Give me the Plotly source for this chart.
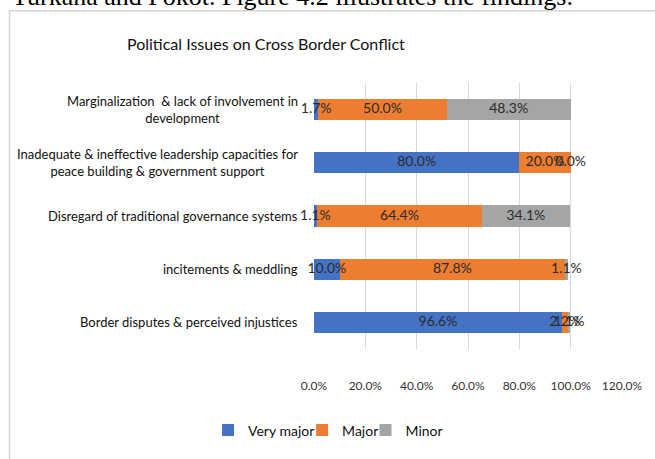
import plotly.graph_objects as go

categories = [
    "Marginalization  & lack of involvement in<br>development",
    "Inadequate & ineffective leadership capacities for<br>peace building & government support",
    "Disregard of traditional governance systems",
    "incitements & meddling",
    "Border disputes & perceived injustices",
]
very_major = [1.7, 80.0, 1.1, 10.0, 96.6]
major = [50.0, 20.0, 64.4, 87.8, 2.2]
minor = [48.3, 0.0, 34.1, 1.1, 1.1]
series_names = ["Very major", "Major", "Minor"]
colors = ["#4472C4", "#ED7D31", "#A5A5A5"]
x_ticks = [0, 20, 40, 60, 80, 100, 120]
x_tick_labels = ["0.0%", "20.0%", "40.0%", "60.0%", "80.0%", "100.0%", "120.0%"]

W, H = 655, 459
L, R, T, B = 314, 625, 83, 354
FONT = "Lato, Roboto, sans-serif"

def px_x(p):
    return (p - L) / (R - L)

def px_y(p):
    return (B - p) / (B - T)

legend_ids = ["legend", "legend2", "legend3"]
legend_text_px = [252, 347, 411]   # where each legend label starts

fig = go.Figure()
all_series = [very_major, major, minor]
for name, vals, col, lg in zip(series_names, all_series, colors, legend_ids):
    fig.add_trace(go.Bar(
        y=categories, x=vals, name=name, orientation="h",
        marker=dict(color=col, line=dict(width=0)),
        width=0.4, hoverinfo="x+name", legend=lg,
    ))

# data labels on top of all bars, centred on each segment
lab_x, lab_y, lab_t = [], [], []
for i, c in enumerate(categories):
    start = 0.0
    for vals in all_series:
        v = vals[i]
        lab_x.append(start + v / 2)
        lab_y.append(c)
        lab_t.append(f"{v:.1f}%")
        start += v
fig.add_trace(go.Scatter(
    x=lab_x, y=lab_y, text=lab_t, mode="text", showlegend=False,
    textposition="middle center", hoverinfo="skip", cliponaxis=False,
    textfont=dict(family=FONT, size=14, color="#2b2b2b"),
))

annotations = []
for c in categories:
    annotations.append(dict(
        x=px_x(300), xref="paper", y=c, yref="y",
        text=c, showarrow=False, xanchor="right", yanchor="middle",
        align="center", font=dict(family=FONT, size=13, color="#111111"),
    ))
annotations.append(dict(
    x=px_x(266), xref="paper", y=px_y(43), yref="paper",
    text="Political Issues on Cross Border Conflict", showarrow=False,
    xanchor="center", yanchor="middle",
    font=dict(family=FONT, size=16, color="#111111"),
))
annotations.append(dict(
    x=px_x(7), xref="paper", y=px_y(-5), yref="paper",
    text="Turkana and Pokot. Figure 4.2 illustrates the findings.", showarrow=False,
    xanchor="left", yanchor="middle",
    font=dict(family="Liberation Serif, Times New Roman, serif", size=26, color="#000000"),
))

legend_common = dict(
    orientation="h", xanchor="left", y=px_y(437), yanchor="middle",
    font=dict(family=FONT, size=14, color="#111111"),
    itemwidth=30, bgcolor="rgba(0,0,0,0)",
)
layout_legends = {}
for lg, tx in zip(legend_ids, legend_text_px):
    layout_legends[lg] = dict(x=px_x(tx - 45), **legend_common)

fig.update_layout(
    width=W, height=H,
    margin=dict(l=L, r=W - R, t=T, b=H - B, pad=0),
    paper_bgcolor="white", plot_bgcolor="white",
    barmode="stack",
    showlegend=True,
    annotations=annotations,
    shapes=[dict(
        type="rect", xref="paper", yref="paper",
        x0=px_x(6.5), x1=px_x(700), y0=px_y(9.5), y1=px_y(520),
        line=dict(color="#d4d4d4", width=1.5), layer="below",
    )],
    **layout_legends,
)
fig.update_xaxes(
    range=[0, 120], tickvals=x_ticks, ticktext=x_tick_labels,
    showgrid=True, gridcolor="#d9d9d9", gridwidth=1, zeroline=False,
    showline=False, ticks="", ticklabelstandoff=28,
    tickfont=dict(family=FONT, size=12, color="#333333"),
)
fig.update_yaxes(
    autorange="reversed", showticklabels=False, showgrid=False,
    zeroline=False, showline=False, ticks="",
)
fig.write_html("out.html")
